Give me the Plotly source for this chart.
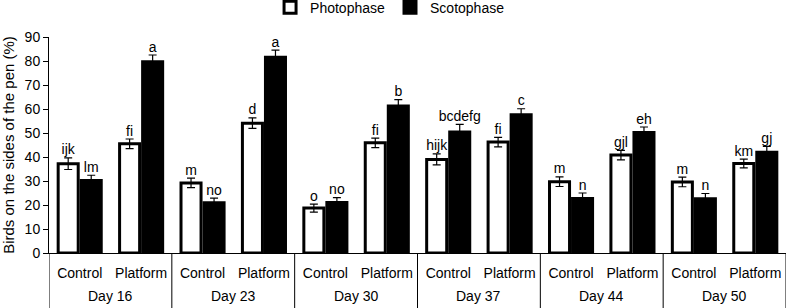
import plotly.graph_objects as go

days = ["Day 16", "Day 23", "Day 30", "Day 37", "Day 44", "Day 50"]
treatments = ["Control", "Platform"]

photo = [37.2, 45.5, 29.2, 54.1, 18.7, 45.9, 39.0, 46.2, 29.7, 40.8, 29.6, 37.3]
photo_err = [2.4, 2.0, 2.0, 2.2, 1.7, 2.0, 2.3, 2.0, 2.0, 2.0, 2.0, 1.8]
photo_lbl = ["ijk", "fi", "m", "d", "o", "fi", "hijk", "fi", "m", "gjl", "m", "km"]

scoto = [30.2, 79.7, 20.9, 81.6, 21.0, 61.3, 50.4, 57.6, 22.7, 50.2, 22.6, 42.0]
scoto_err = [2.2, 2.8, 2.0, 2.9, 2.1, 2.6, 3.2, 2.5, 2.3, 2.3, 2.2, 2.4]
scoto_lbl = ["lm", "a", "no", "a", "no", "b", "bcdefg", "c", "n", "eh", "n", "gj"]

cats = [f"{d}|{t}" for d in days for t in treatments]
tick_text = [t for _ in days for t in treatments]

FONT = "Liberation Sans, Arial, sans-serif"

fig = go.Figure()
fig.add_trace(go.Bar(
    x=cats, y=photo, name="Photophase",
    marker=dict(color="white", line=dict(color="black", width=3)),
    error_y=dict(type="data", array=photo_err, color="black", thickness=1.2, width=4),
))
fig.add_trace(go.Bar(
    x=cats, y=scoto, name="Scotophase",
    marker=dict(color="black", line=dict(color="black", width=3)),
    error_y=dict(type="data", array=scoto_err, color="black", thickness=1.2, width=4),
))
fig.add_trace(go.Scatter(
    x=cats, y=[v + e for v, e in zip(photo, photo_err)], mode="text",
    text=photo_lbl, textposition="top center", showlegend=False,
    textfont=dict(size=14, color="black", family=FONT), hoverinfo="skip",
))
fig.add_trace(go.Scatter(
    x=cats, y=[v + e for v, e in zip(scoto, scoto_err)], mode="text",
    text=scoto_lbl, textposition="top center", showlegend=False,
    textfont=dict(size=14, color="black", family=FONT), hoverinfo="skip",
))

# group labels and dividers
n_t = len(treatments)
for i, d in enumerate(days):
    fig.add_annotation(x=i * n_t + (n_t - 1) / 2, xref="x", y=-0.199, yref="paper",
                       text=d, showarrow=False, yanchor="middle",
                       font=dict(size=14, family=FONT, color="black"))
for i in range(len(days) + 1):
    fig.add_shape(type="line", xref="x", yref="paper",
                  x0=i * n_t - 0.5, x1=i * n_t - 0.5, y0=0, y1=-0.26,
                  line=dict(color="black", width=1))

fig.update_layout(
    width=788, height=308,
    margin=dict(l=49, r=2, t=37, b=55),
    paper_bgcolor="white", plot_bgcolor="white",
    barmode="group", bargap=0.25, bargroupgap=0.13,
    scattermode="group", scattergap=0.25,
    font=dict(family=FONT, size=14, color="black"),
    showlegend=True,
    legend=dict(orientation="h", xref="container", x=0.495, xanchor="center",
                yref="container", y=0.975, yanchor="middle",
                font=dict(size=14), itemwidth=30, traceorder="normal",
                bgcolor="rgba(0,0,0,0)"),
    xaxis=dict(
        type="category", tickmode="array", tickvals=cats, ticktext=tick_text,
        showline=True, linecolor="black", linewidth=1,
        ticks="", ticklabelstandoff=7, showgrid=False, zeroline=False,
        tickfont=dict(size=14), automargin=False, range=[-0.5, len(cats) - 0.5],
    ),
    yaxis=dict(
        range=[0, 90], dtick=10, showline=True, linecolor="black", linewidth=1,
        ticks="outside", ticklen=5, tickcolor="black", showgrid=False, zeroline=False,
        tickfont=dict(size=14), automargin=False,
        title=dict(text="Birds on the sides of the pen (%)", font=dict(size=15), standoff=9),
    ),
)

fig.write_html("out.html")
